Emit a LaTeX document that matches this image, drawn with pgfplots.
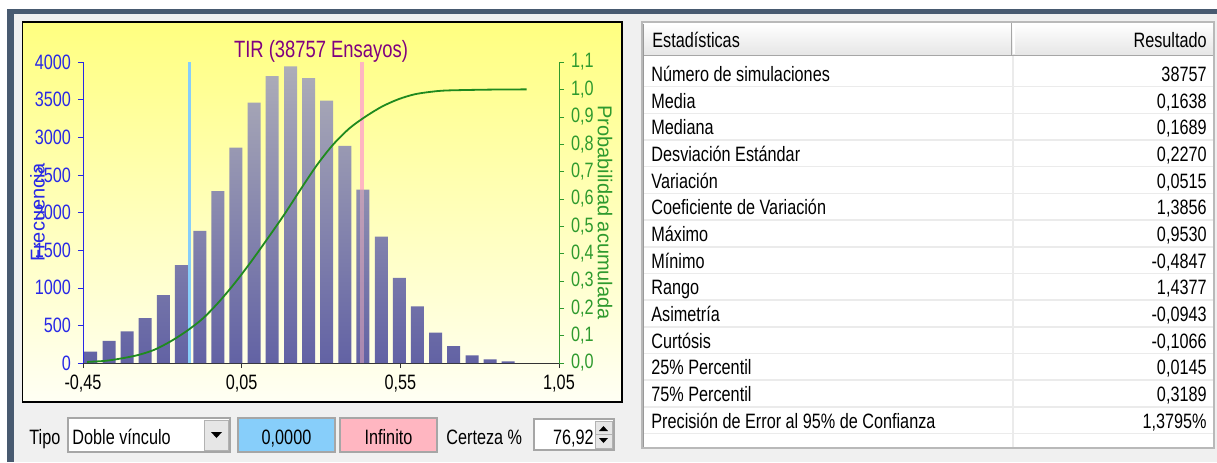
\documentclass[border=0pt]{standalone}
\usepackage{pgfplots}
\pgfplotsset{compat=1.18}
\usepackage{fontspec}
\setmainfont[FakeStretch=0.78]{Liberation Sans}
\newfontfamily\plainsans{Liberation Sans}
\definecolor{frameblue}{HTML}{485A70}
\definecolor{winbg}{HTML}{F0F0F0}
\definecolor{ytop}{HTML}{FFFF80}
\definecolor{ybot}{HTML}{FFFFF4}
\definecolor{bartop}{HTML}{ADADB8}
\definecolor{barbot}{HTML}{6262A4}
\definecolor{cdfgreen}{HTML}{1F8A1F}
\definecolor{axgreen}{HTML}{2E9A2E}
\definecolor{tickblue}{HTML}{2828E6}
\definecolor{titlepurple}{HTML}{800080}
\definecolor{lblue}{HTML}{87CEFA}
\definecolor{lpink}{HTML}{FFB6C1}
\definecolor{rowline}{HTML}{EBEBEB}
\definecolor{hdrgray}{HTML}{E6E6E6}
\newcommand\tickfont{\fontsize{10.4}{12}\selectfont}
\newcommand\titlefont{\fontsize{11.8}{14}\selectfont}
\newcommand\rotfont{\plainsans\fontsize{10}{12}\selectfont}
\begin{document}
\begin{tikzpicture}[font=\fontsize{10.4}{12}\selectfont,
  L/.style={anchor=base west, inner sep=0},
  R/.style={anchor=base east, inner sep=0},
  C/.style={anchor=base, inner sep=0}]
\begin{scope}[x=0.5pt,y=-0.5pt]
\fill[white] (0,0) rectangle (1217,462);
\fill[winbg] (7,9) rectangle (1217,462);
\fill[frameblue] (7,9) rectangle (1217,13.5);
\fill[frameblue] (7,9) rectangle (13.5,462);
% chart panel
\shade[top color=ytop, bottom color=ybot] (22.5,22) rectangle (622,402);
\draw[black, line width=0.6pt] (22.5,22) rectangle (622,402);
% table
\fill[white] (642,22) rectangle (1214,448);
\shade[top color=white, bottom color=hdrgray] (643,23) rectangle (1213,55);
\draw[gray!70] (643,55.5) -- (1213,55.5);
\draw[gray!70] (1011.5,23) -- (1011.5,55);
\draw[white, line width=0.8pt] (1014,24) -- (1014,54);
\draw[white, line width=0.8pt] (645,24) -- (1010,24);
\draw[rowline, line width=0.7pt] (1013,56) -- (1013,447);
\foreach \yy in {86.7,113.4,140.1,166.7,193.4,220.1,246.8,273.4,300.1,326.8,353.4,380.1,406.8,433.5}
  \draw[rowline, line width=0.7pt] (643,\yy) -- (1213,\yy);
\draw[gray!55, line width=0.6pt] (642,22) rectangle (1214,448);
\draw[gray!80, line width=0.5pt] (643.5,23.5) -- (643.5,447);
\node[L] at (652,47.5) {Estadísticas};
\node[R] at (1207,47.5) {Resultado};
\node[L] at (651,81.4) {Número de simulaciones};
\node[L] at (651,108.1) {Media};
\node[L] at (651,134.7) {Mediana};
\node[L] at (651,161.4) {Desviación Estándar};
\node[L] at (651,188.1) {Variación};
\node[L] at (651,214.8) {Coeficiente de Variación};
\node[L] at (651,241.4) {Máximo};
\node[L] at (651,268.1) {Mínimo};
\node[L] at (651,294.8) {Rango};
\node[L] at (651,321.4) {Asimetría};
\node[L] at (651,348.1) {Curtósis};
\node[L] at (651,374.8) {25\% Percentil};
\node[L] at (651,401.4) {75\% Percentil};
\node[L] at (651,428.1) {Precisión de Error al 95\% de Confianza};
\node[R] at (1207,81.4) {38757};
\node[R] at (1207,108.1) {0,1638};
\node[R] at (1207,134.7) {0,1689};
\node[R] at (1207,161.4) {0,2270};
\node[R] at (1207,188.1) {0,0515};
\node[R] at (1207,214.8) {1,3856};
\node[R] at (1207,241.4) {0,9530};
\node[R] at (1207,268.1) {-0,4847};
\node[R] at (1207,294.8) {1,4377};
\node[R] at (1207,321.4) {-0,0943};
\node[R] at (1207,348.1) {-0,1066};
\node[R] at (1207,374.8) {0,0145};
\node[R] at (1207,401.4) {0,3189};
\node[R] at (1207,428.1) {1,3795\%};
% bottom controls
\node[L] at (29,444) {Tipo};
\fill[white] (68,418) rectangle (230,452);
\draw[gray!70, line width=0.6pt] (68,418) rectangle (230,452);
\node[L] at (72,444) {Doble vínculo};
\fill[hdrgray] (204,420) rectangle (228,450);
\draw[gray!60, line width=0.5pt] (204,420) rectangle (228,450);
\fill[black] (211,432) -- (222,432) -- (216.5,438) -- cycle;
\fill[lblue] (238,418) rectangle (335,452);
\draw[gray!70, line width=0.6pt] (238,418) rectangle (335,452);
\node[C] at (286.5,444) {0,0000};
\fill[lpink] (340,418) rectangle (437,452);
\draw[gray!70, line width=0.6pt] (340,418) rectangle (437,452);
\node[C] at (388.5,444) {Infinito};
\node[L] at (446,444) {Certeza \%};
\fill[white] (534,419) rectangle (614,450);
\draw[gray!70, line width=0.6pt] (534,419) rectangle (614,450);
\node[R] at (594,444) {76,92};
\fill[hdrgray] (595,421) rectangle (612,448);
\draw[gray!60, line width=0.4pt] (595,421) rectangle (612,448);
\draw[gray!60, line width=0.4pt] (595,434.5) -- (612,434.5);
\fill[black] (599,431) -- (608,431) -- (603.5,426) -- cycle;
\fill[black] (599,438) -- (608,438) -- (603.5,443) -- cycle;
\end{scope}

\begin{axis}[
  at={(41.5pt,-181.5pt)}, anchor=south west,
  scale only axis, width=238pt, height=150.5pt,
  xmin=-0.45, xmax=1.05, ymin=0, ymax=4000,
  axis x line*=bottom, axis y line*=left,
  x axis line style={-, black!80},
  y axis line style={-, tickblue},
  xtick={-0.45,0.05,0.55,1.05},
  xticklabels={{-0,45},{0,05},{0,55},{1,05}},
  ytick={0,500,1000,1500,2000,2500,3000,3500,4000},
  tick align=outside, major tick length=2.5pt,
  xtick style={black!80},
  ytick style={tickblue},
  xticklabel style={black, font=\tickfont},
  yticklabel style={tickblue, font=\tickfont},
  /pgf/number format/assume math mode=true,
  /pgf/number format/1000 sep={},
  clip=false,
]
\addplot[lpink, line width=2pt] coordinates {(0.4295,0) (0.4295,4000)};
\addplot[ybar, bar width=0.041, draw=none, top color=bartop, bottom color=barbot] coordinates {
(-0.426,150) (-0.368,295) (-0.311,422) (-0.254,598) (-0.197,901) (-0.140,1302)
(-0.082,1755) (-0.025,2283) (0.032,2863) (0.089,3461) (0.146,3813) (0.204,3941)
(0.261,3787) (0.318,3488) (0.375,2886) (0.432,2305) (0.490,1680) (0.547,1131)
(0.604,752) (0.661,405) (0.718,224) (0.776,101) (0.833,49) (0.890,22)};
\addplot[lpink, line width=2pt, opacity=0.45] coordinates {(0.4295,0) (0.4295,4000)};
\addplot[lblue, line width=1.8pt] coordinates {(-0.114,0) (-0.114,4000)};
\node[titlepurple, font=\titlefont] at (axis description cs:0.5,1.035) {TIR (38757 Ensayos)};
\node[rotate=90, tickblue, font=\rotfont] at (axis description cs:-0.0954,0.5) {Frecuencia};
\end{axis}

\begin{axis}[
  at={(41.5pt,-181.5pt)}, anchor=south west,
  scale only axis, width=238pt, height=150.5pt,
  xmin=-0.45, xmax=1.05, ymin=0, ymax=1.1,
  axis x line=none, axis y line*=right,
  y axis line style={-, axgreen},
  ytick={0,0.1,0.2,0.3,0.4,0.5,0.6,0.7,0.8,0.9,1.0,1.1},
  yticklabels={{0,0},{0,1},{0,2},{0,3},{0,4},{0,5},{0,6},{0,7},{0,8},{0,9},{1,0},{1,1}},
  tick align=outside, major tick length=2.5pt,
  ytick style={axgreen},
  yticklabel style={axgreen, font=\tickfont},
  clip=false,
]
\addplot[cdfgreen, line width=0.9pt, smooth] coordinates {
(-0.437,0.004) (-0.379,0.008) (-0.328,0.017) (-0.277,0.029) (-0.226,0.048)
(-0.174,0.079) (-0.123,0.117) (-0.072,0.163) (-0.021,0.224) (0.031,0.296)
(0.082,0.374) (0.133,0.457) (0.185,0.544) (0.236,0.635) (0.287,0.723)
(0.338,0.798) (0.390,0.858) (0.441,0.901) (0.492,0.937) (0.544,0.964)
(0.595,0.982) (0.646,0.991) (0.697,0.996) (0.826,0.999) (0.948,1.0)};
\node[rotate=-90, axgreen, font=\rotfont] at (axis description cs:1.0966,0.5) {Probabilidad acumulada};
\end{axis}
\begin{scope}[x=0.5pt,y=-0.5pt]
\pgfresetboundingbox
\useasboundingbox (0,0) rectangle (1217,462);
\end{scope}
\end{tikzpicture}
\end{document}
